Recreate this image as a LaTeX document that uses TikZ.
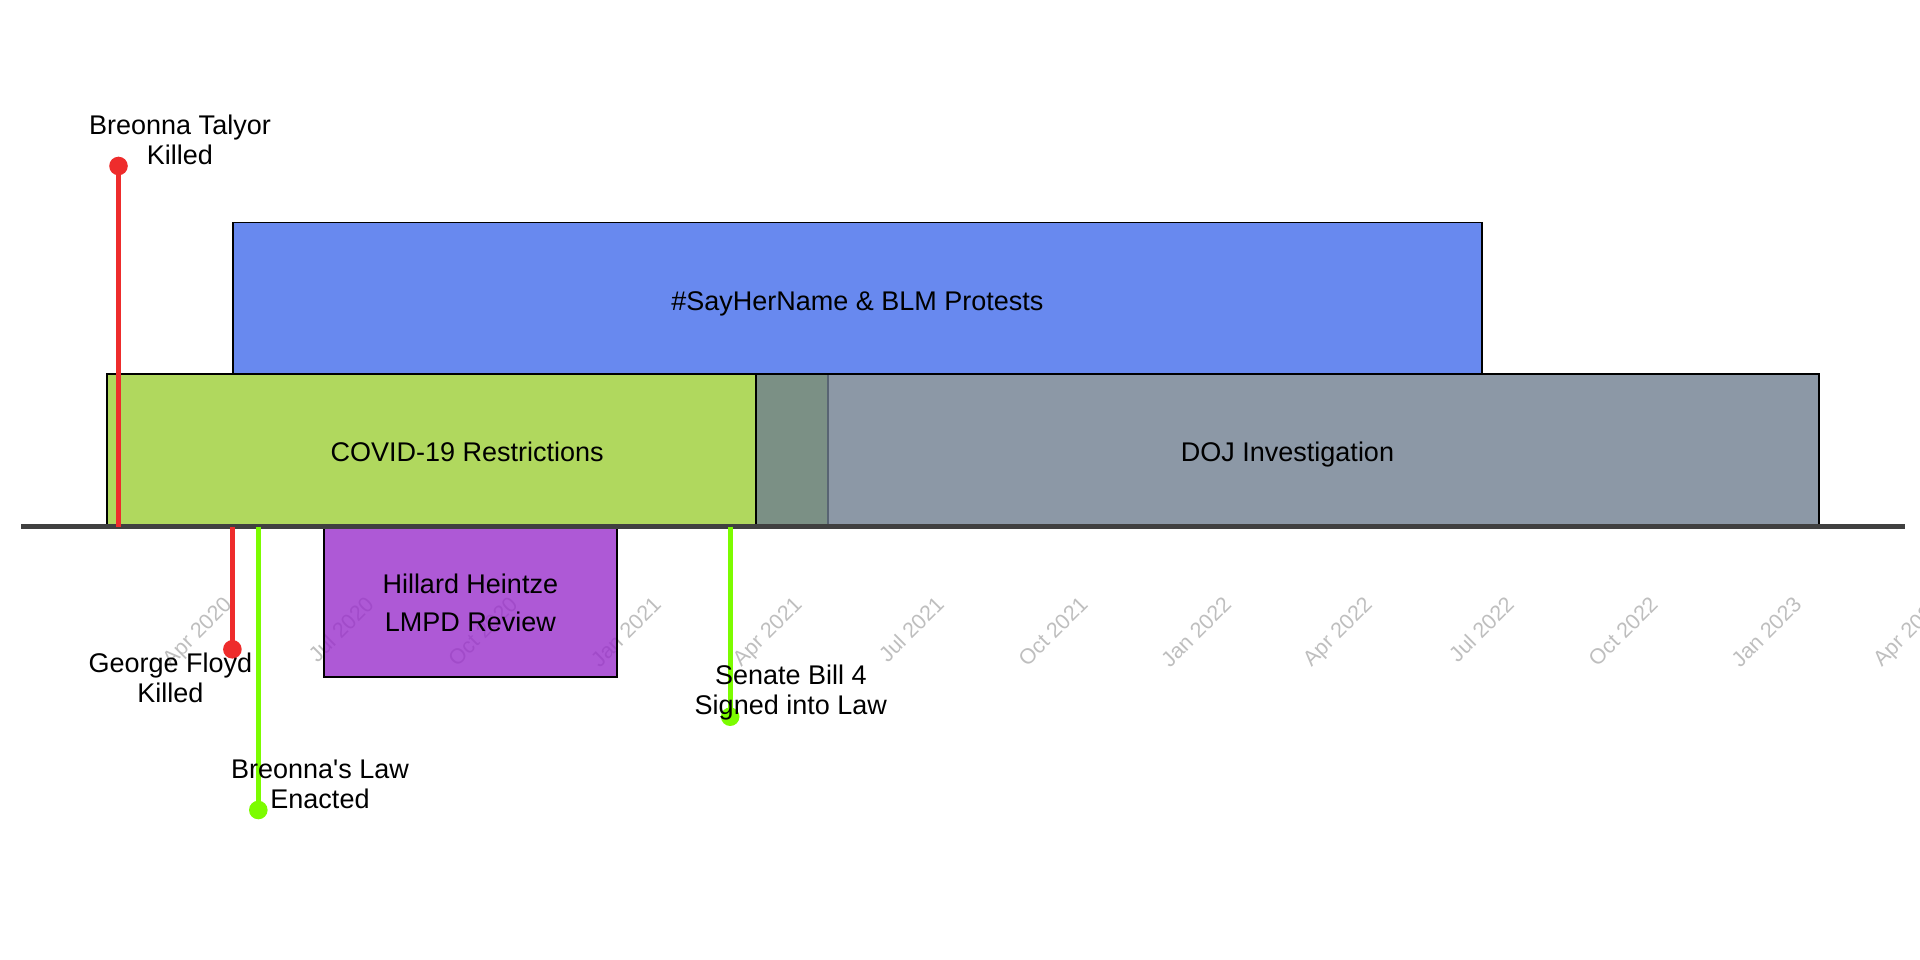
\documentclass[tikz,border=0pt]{standalone}
\usepackage{fontspec}
\setmainfont{Liberation Sans}

\definecolor{covid}{RGB}{156,206,54}
\definecolor{doj}{RGB}{111,126,144}
\definecolor{blm}{RGB}{66,108,235}
\definecolor{review}{RGB}{154,47,204}
\definecolor{killed}{RGB}{238,44,44}
\definecolor{law}{RGB}{124,252,0}
\definecolor{axisgray}{RGB}{64,64,64}
\definecolor{ticklbl}{RGB}{190,190,190}

% two-line label whose base is the baseline of its first line
\newcommand{\twolines}[2]{\begin{tabular}[t]{@{}c@{}}#1\\#2\end{tabular}}

\begin{document}
\begin{tikzpicture}[x=1pt,y=-1pt,
  span/.style={draw=black, line width=1.6pt, fill opacity=0.8},
  spantext/.style={inner sep=0pt, anchor=base, font=\fontsize{27}{38}\selectfont},
  evtext/.style={inner sep=0pt, anchor=base, font=\fontsize{27}{30}\selectfont},
  ticktext/.style={inner sep=0pt, anchor=base east, rotate=45, text=ticklbl,
                   font=\fontsize{21.5}{24}\selectfont},
  stem/.style={line width=4.7pt},
  dot/.style={circle, fill=#1, draw=none, inner sep=0pt, minimum size=18.6pt},
  timeaxis/.style={line width=4.7pt, draw=axisgray}
]
\useasboundingbox (0,0) rectangle (1920,960);
\clip (0,0) rectangle (1920,960);

% quarter labels along the time axis
\node[ticktext] (q1) at (233.0,605.5) {Apr 2020};
\node[ticktext] (q2) at (375.2,605.5) {Jul 2020};
\node[ticktext] (q3) at (518.9,605.5) {Oct 2020};
\node[ticktext] (q4) at (662.6,605.5) {Jan 2021};
\node[ticktext] (q5) at (803.2,605.5) {Apr 2021};
\node[ticktext] (q6) at (945.4,605.5) {Jul 2021};
\node[ticktext] (q7) at (1089.1,605.5) {Oct 2021};
\node[ticktext] (q8) at (1232.8,605.5) {Jan 2022};
\node[ticktext] (q9) at (1373.4,605.5) {Apr 2022};
\node[ticktext] (q10) at (1515.6,605.5) {Jul 2022};
\node[ticktext] (q11) at (1659.3,605.5) {Oct 2022};
\node[ticktext] (q12) at (1803.0,605.5) {Jan 2023};
\node[ticktext] (q13) at (1943.6,605.5) {Apr 2023};

% periods
\draw[span, fill=covid]  (106.7,373.7) rectangle (827.7,526.5);
\draw[span, fill=doj]    (756.0,373.7) rectangle (1819.0,526.5);
\draw[span, fill=blm]    (232.7,222.7) rectangle (1482.0,373.7);
\draw[span, fill=review] (323.8,526.5) rectangle (616.8,677.0);

\node[spantext] (covidlbl) at (467.2,461.5) {COVID-19 Restrictions};
\node[spantext] (dojlbl)   at (1287.5,461.5) {DOJ Investigation};
\node[spantext] (blmlbl)   at (857.4,310.0) {\#SayHerName \& BLM Protests};
\node[spantext] (revlbl)   at (470.3,593.5) {\twolines{Hillard Heintze}{LMPD Review}};

% time axis
\coordinate (axisL) at (21,526.5);
\coordinate (axisR) at (1905,526.5);
\draw[timeaxis] (axisL) -- (axisR);

% events
\coordinate (btA) at (118.5,526.5);
\coordinate (gfA) at (232.4,526.5);
\coordinate (blA) at (258.3,526.5);
\coordinate (sbA) at (730.2,526.5);

\node[dot=killed] (bt) at (118.5,166.0) {};
\node[dot=killed] (gf) at (232.4,649.3) {};
\node[dot=law]    (bl) at (258.3,810.0) {};
\node[dot=law]    (sb) at (730.2,716.7) {};

\draw[stem, killed] (btA) -- (bt.center);
\draw[stem, killed] (gfA) -- (gf.center);
\draw[stem, law]    (blA) -- (bl.center);
\draw[stem, law]    (sbA) -- (sb.center);

\node[evtext] (btlbl) at (180.0,135.0) {\twolines{Breonna Talyor}{Killed}};
\node[evtext] (gflbl) at (170.5,672.5) {\twolines{George Floyd}{Killed}};
\node[evtext] (bllbl) at (320.0,778.5) {\twolines{Breonna\textquotesingle s Law}{Enacted}};
\node[evtext] (sblbl) at (790.8,684.3) {\twolines{Senate Bill 4}{Signed into Law}};
\end{tikzpicture}
\end{document}
